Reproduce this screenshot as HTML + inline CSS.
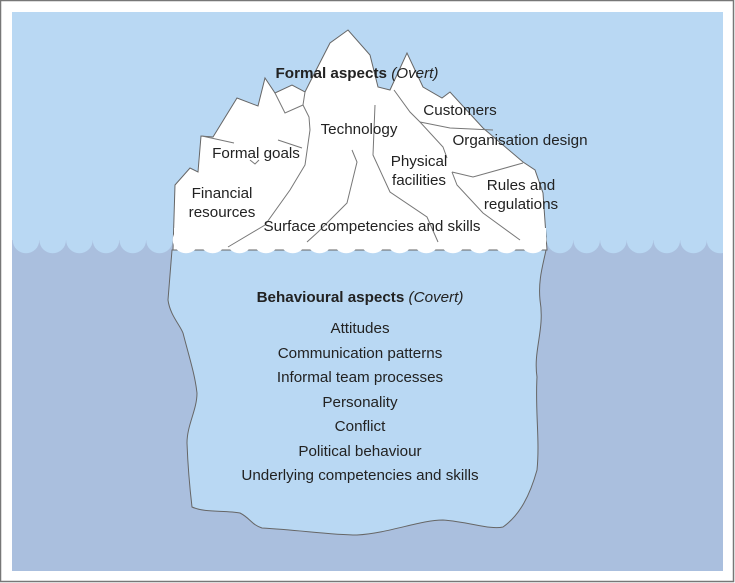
<!DOCTYPE html>
<html><head><meta charset="utf-8"><style>
html,body{margin:0;padding:0;background:#fff}
svg{display:block}
text{font-family:"Liberation Sans",Arial,sans-serif;fill:#222}
</style></head><body>
<svg width="735" height="583" viewBox="0 0 735 583" xmlns="http://www.w3.org/2000/svg">
<defs><clipPath id="p"><rect x="12" y="12" width="711" height="559"/></clipPath></defs>
<rect x="0.5" y="0.5" width="733" height="581" fill="#fff" stroke="#777" stroke-width="1.5"/>
<g clip-path="url(#p)">
<rect x="12" y="12" width="711" height="559" fill="#b9d8f3"/>
<rect x="12" y="240" width="711" height="331" fill="#aabfde"/>
<g fill="#b9d8f3">
<circle cx="26" cy="240" r="13.3"/><circle cx="52.7" cy="240" r="13.3"/><circle cx="79.4" cy="240" r="13.3"/><circle cx="106" cy="240" r="13.3"/><circle cx="132.8" cy="240" r="13.3"/><circle cx="159.5" cy="240" r="13.3"/>
<circle cx="560" cy="240" r="13.3"/><circle cx="586.7" cy="240" r="13.3"/><circle cx="613.4" cy="240" r="13.3"/><circle cx="640" cy="240" r="13.3"/><circle cx="666.8" cy="240" r="13.3"/><circle cx="693.5" cy="240" r="13.3"/><circle cx="720" cy="240" r="13.3"/>
</g>
<rect x="12" y="225" width="711" height="15" fill="#b9d8f3"/>
</g>
<path d="M172,250 L168,300 C170,315 180,325 183,333 C190,360 195,375 197,393 C197,410 187,425 187,443 C188,470 190,490 192,507 C205,513 225,510 240,513 C250,518 252,525 262,528 C300,530 330,535 357,535 C390,533 420,520 443,520 C470,522 490,530 503,527 C520,515 530,495 537,470 C540,440 535,410 537,377 C533,350 545,330 540,300 C538,280 543,265 546,250 Z" fill="#b9d8f3" stroke="#666" stroke-width="1"/>
<path d="M173,250 L175,185 L190,168 L198,172 L201,136 L213,137 L237,98 L258,106 L265,78 L275,93 L292,85 L305,92 L310,82 L330,43 L348,30 L370,55 L378,87 L390,90 L407,53 L423,87 L442,98 L450,92 L483,128 L523,162 L535,170 L543,193 L547,250 Z" fill="#fff" stroke="#666" stroke-width="1"/>
<g fill="#fff">
<circle cx="186" cy="240" r="13.3"/><circle cx="212.7" cy="240" r="13.3"/><circle cx="239.4" cy="240" r="13.3"/><circle cx="266" cy="240" r="13.3"/><circle cx="292.8" cy="240" r="13.3"/><circle cx="319.5" cy="240" r="13.3"/><circle cx="346.2" cy="240" r="13.3"/><circle cx="372.9" cy="240" r="13.3"/><circle cx="399.6" cy="240" r="13.3"/><circle cx="426.3" cy="240" r="13.3"/><circle cx="453" cy="240" r="13.3"/><circle cx="479.7" cy="240" r="13.3"/><circle cx="506.4" cy="240" r="13.3"/><circle cx="533.1" cy="240" r="13.3"/>
</g>
<rect x="174" y="228" width="372" height="12" fill="#fff"/>
<g fill="none" stroke="#777" stroke-width="1">
<polyline points="275,93 285,113 303,105 305,92"/>
<polyline points="303,105 309,117 310,130 305,165 290,190 265,225 228,247"/>
<polyline points="202,136 234,143"/>
<polyline points="278,140 302,148"/>
<polyline points="250,160 255,164 259,160"/>
<polyline points="352,150 357,162 347,203 318,232 307,242"/>
<polyline points="375,105 373,155 390,192 427,217 438,242"/>
<polyline points="394,90 410,112 420,122 443,147 447,158"/>
<polyline points="420,122 450,128 493,130"/>
<polyline points="452,172 457,185 483,213 520,240"/>
<polyline points="452,172 473,177 523,163"/>
</g>
<g font-size="15.2">
<text x="357" y="78" text-anchor="middle"><tspan font-weight="bold">Formal aspects</tspan> <tspan font-style="italic">(Overt)</tspan></text>
<text x="359" y="134" text-anchor="middle">Technology</text>
<text x="460" y="115" text-anchor="middle">Customers</text>
<text x="520" y="145" text-anchor="middle">Organisation design</text>
<text x="256" y="158" text-anchor="middle">Formal goals</text>
<text x="419" y="166" text-anchor="middle">Physical</text>
<text x="419" y="185" text-anchor="middle">facilities</text>
<text x="521" y="190" text-anchor="middle">Rules and</text>
<text x="521" y="209" text-anchor="middle">regulations</text>
<text x="222" y="198" text-anchor="middle">Financial</text>
<text x="222" y="217" text-anchor="middle">resources</text>
<text x="372" y="231" text-anchor="middle">Surface competencies and skills</text>
<text x="360" y="302" text-anchor="middle"><tspan font-weight="bold">Behavioural aspects</tspan> <tspan font-style="italic">(Covert)</tspan></text>
<text x="360" y="333" text-anchor="middle">Attitudes</text>
<text x="360" y="358" text-anchor="middle">Communication patterns</text>
<text x="360" y="382" text-anchor="middle">Informal team processes</text>
<text x="360" y="407" text-anchor="middle">Personality</text>
<text x="360" y="431" text-anchor="middle">Conflict</text>
<text x="360" y="456" text-anchor="middle">Political behaviour</text>
<text x="360" y="480" text-anchor="middle">Underlying competencies and skills</text>
</g>
</svg>
</body></html>
